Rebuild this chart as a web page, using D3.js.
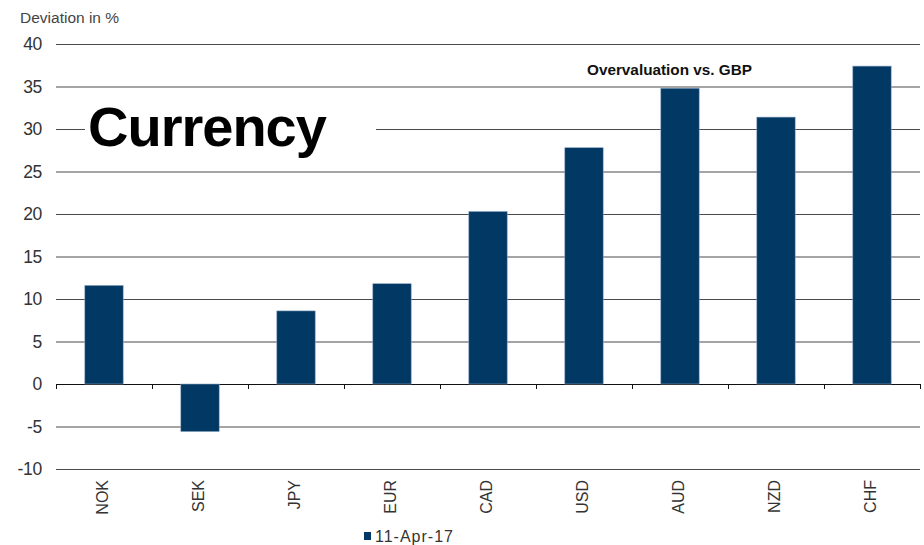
<!DOCTYPE html>
<html><head><meta charset="utf-8">
<script src="https://cdn.jsdelivr.net/npm/d3@7"></script>
<style>body{margin:0;background:#fff;} text{font-family:"Liberation Sans",Arial,sans-serif;}</style>
</head><body>
<svg id="c" width="924" height="545"></svg>
<script>
const categories = ["NOK","SEK","JPY","EUR","CAD","USD","AUD","NZD","CHF"];
const values = [11.6, -5.6, 8.6, 11.8, 20.3, 27.8, 34.8, 31.4, 37.4];
const yTicks = [40,35,30,25,20,15,10,5,0,-5,-10];
const seriesName = "11-Apr-17";

const svg = d3.select("#c");
const L = 56, R = 920, T = 44, B = 469;
const x = d3.scaleBand().domain(categories).range([L, R]).paddingInner(0.6).paddingOuter(0.3);
const xb = d3.scaleBand().domain(categories).range([L, R]);
const y = d3.scaleLinear().domain([-10, 40]).range([B, T]);

// gridlines
svg.append("g").selectAll("line").data(yTicks).join("line")
  .attr("x1", L).attr("x2", R).attr("y1", d => y(d)+0.5).attr("y2", d => y(d)+0.5)
  .attr("stroke", d => d === 0 ? "#111" : "#4a4a4a").attr("stroke-width", 1);

// y labels
svg.append("g").selectAll("text").data(yTicks).join("text")
  .attr("x", 42).attr("y", d => y(d) + 6).attr("text-anchor", "end")
  .attr("font-size", 17.5).attr("fill", "#333").attr("letter-spacing", -0.3).text(d => d);

svg.append("text").attr("x", 20).attr("y", 23).attr("font-size", 15.5).attr("fill", "#444")
  .text("Deviation in %");

// bars
svg.append("g").selectAll("rect").data(values).join("rect")
  .attr("x", (d,i) => x(categories[i]))
  .attr("width", x.bandwidth())
  .attr("y", d => y(Math.max(0, d)))
  .attr("height", d => Math.abs(y(d) - y(0)))
  .attr("fill", "#023864").attr("stroke", "#8fa9c4").attr("stroke-width", 0.6);

// zero axis ticks at category boundaries
const tickXs = categories.map(c => xb(c)).concat([R]);
svg.append("g").selectAll("line").data(tickXs).join("line")
  .attr("x1", d => Math.round(d)+0.5).attr("x2", d => Math.round(d)+0.5)
  .attr("y1", y(0)).attr("y2", y(0)+5).attr("stroke", "#111");

// x labels
svg.append("g").selectAll("text").data(categories).join("text")
  .attr("transform", c => `translate(${xb(c) + xb.bandwidth()/2 + 4},480) rotate(-90)`)
  .attr("text-anchor", "end").attr("font-size", 16).attr("fill", "#333").text(c => c);

// Title block with white background
svg.append("rect").attr("x", 85).attr("y", 100).attr("width", 291).attr("height", 58).attr("fill", "#fff");
svg.append("text").attr("x", 88).attr("y", 146).attr("font-size", 56).attr("font-weight", "bold")
  .attr("letter-spacing", -1).attr("fill", "#000").text("Currency");

svg.append("text").attr("x", 587).attr("y", 75).attr("font-size", 15.3).attr("font-weight", "bold")
  .attr("fill", "#111").text("Overvaluation vs. GBP");

// legend
svg.append("rect").attr("x", 364).attr("y", 532).attr("width", 7).attr("height", 8).attr("fill", "#023864");
svg.append("text").attr("x", 375).attr("y", 542).attr("font-size", 16).attr("fill", "#333")
  .attr("letter-spacing", 1).text(seriesName);
</script>
</body></html>
